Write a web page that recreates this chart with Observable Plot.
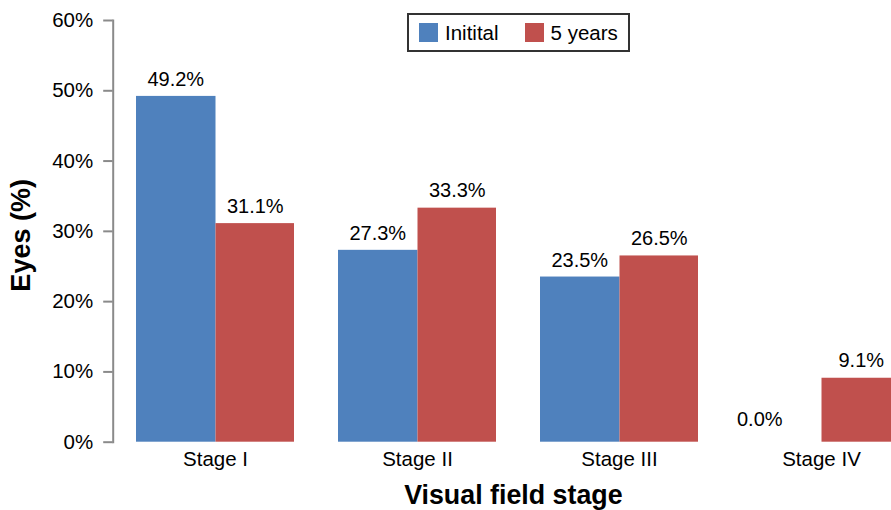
<!DOCTYPE html>
<html><head><meta charset="utf-8">
<script src="https://cdn.jsdelivr.net/npm/d3@7"></script>
<script src="https://cdn.jsdelivr.net/npm/@observablehq/plot@0.6"></script>
<style>
html,body{margin:0;padding:0;background:#fff;overflow:hidden;}
#wrap{position:relative;width:891px;height:510px;font-family:"Liberation Sans",Arial,sans-serif;}
#legend{position:absolute;left:407px;top:13px;width:223px;height:39px;box-sizing:border-box;border:2px solid #333;display:flex;align-items:center;padding-left:10px;font-size:20.5px;color:#000;background:#fff;}
.item{display:flex;align-items:center;}
.sw{width:19px;height:19px;display:inline-block;margin-right:7px;}
</style></head><body><div id="wrap"></div>
<script>
const stages = ["Stage I", "Stage II", "Stage III", "Stage IV"];
const series = ["Initital", "5 years"];
const initial = [49.2, 27.3, 23.5, 0.0];
const fiveYears = [31.1, 33.3, 26.5, 9.1];
const yTicks = [0, 10, 20, 30, 40, 50, 60];
const colors = ["#4F81BD", "#C0504D"];

const W = 891, H = 510;
const data = stages.flatMap((s, i) => [
  {stage: s, series: series[0], value: initial[i]},
  {stage: s, series: series[1], value: fiveYears[i]}
]);
const first = data.filter(d => d.series === series[0]);
const second = data.filter(d => d.series === series[1]);
const half = 79.5;
const fmt = d => d.value.toFixed(1) + "%";

const plot = Plot.plot({
  width: W, height: H,
  marginLeft: 112.7, marginRight: 0, marginTop: 20, marginBottom: H - 441.7,
  style: {fontFamily: "Liberation Sans, Arial, sans-serif", background: "white", color: "black"},
  x: {domain: stages, range: [135, 902.1], paddingInner: 0.2156, paddingOuter: 0},
  y: {domain: [0, 60], range: [441.7, 20]},
  color: {domain: series, range: colors},
  marks: [
    Plot.barY(first, {x: "stage", y: "value", fill: "series", insetRight: half - 1}),
    Plot.barY(second, {x: "stage", y: "value", fill: "series", insetLeft: half}),
    Plot.text(first.filter(d => d.value > 0), {x: "stage", y: "value", text: fmt, dx: -half / 2, dy: -10, lineAnchor: "bottom", fontSize: 20, fill: "black"}),
    Plot.text(first.filter(d => d.value === 0), {x: "stage", y: "value", text: fmt, dx: -half / 2 - 22, dy: -16, lineAnchor: "bottom", fontSize: 20, fill: "black"}),
    Plot.text(second, {x: "stage", y: "value", text: fmt, dx: half / 2, dy: -11, lineAnchor: "bottom", fontSize: 20, fill: "black"}),
    Plot.frame({anchor: "left", stroke: "#8a8a8a", strokeWidth: 2}),
    Plot.axisY({ticks: yTicks, tickSize: 9.5, tickPadding: 10.5, tickFormat: d => d + "%", stroke: "#8a8a8a", strokeWidth: 2, fill: "black", fontSize: 20.5, label: null}),
    Plot.axisX({tickSize: 0, tickPadding: 9, fontSize: 20.5, fill: "black", label: null}),
    Plot.text(["Eyes (%)"], {frameAnchor: "left", textAnchor: "middle", rotate: -90, dx: -91.7, dy: 4, fontSize: 27, fontWeight: "bold", fill: "black"}),
    Plot.text(["Visual field stage"], {frameAnchor: "bottom", dx: 11, dy: 61.6, lineAnchor: "bottom", fontSize: 26.8, fontWeight: "bold", fill: "black"})
  ]
});

const wrap = document.getElementById("wrap");
wrap.appendChild(plot);
const legend = document.createElement("div");
legend.id = "legend";
series.forEach((s, i) => {
  const item = document.createElement("div");
  item.className = "item";
  if (i > 0) item.style.marginLeft = "26px";
  const sw = document.createElement("span");
  sw.className = "sw";
  sw.style.background = colors[i];
  const t = document.createElement("span");
  t.textContent = s;
  item.appendChild(sw);
  item.appendChild(t);
  legend.appendChild(item);
});
wrap.appendChild(legend);
</script></body></html>
